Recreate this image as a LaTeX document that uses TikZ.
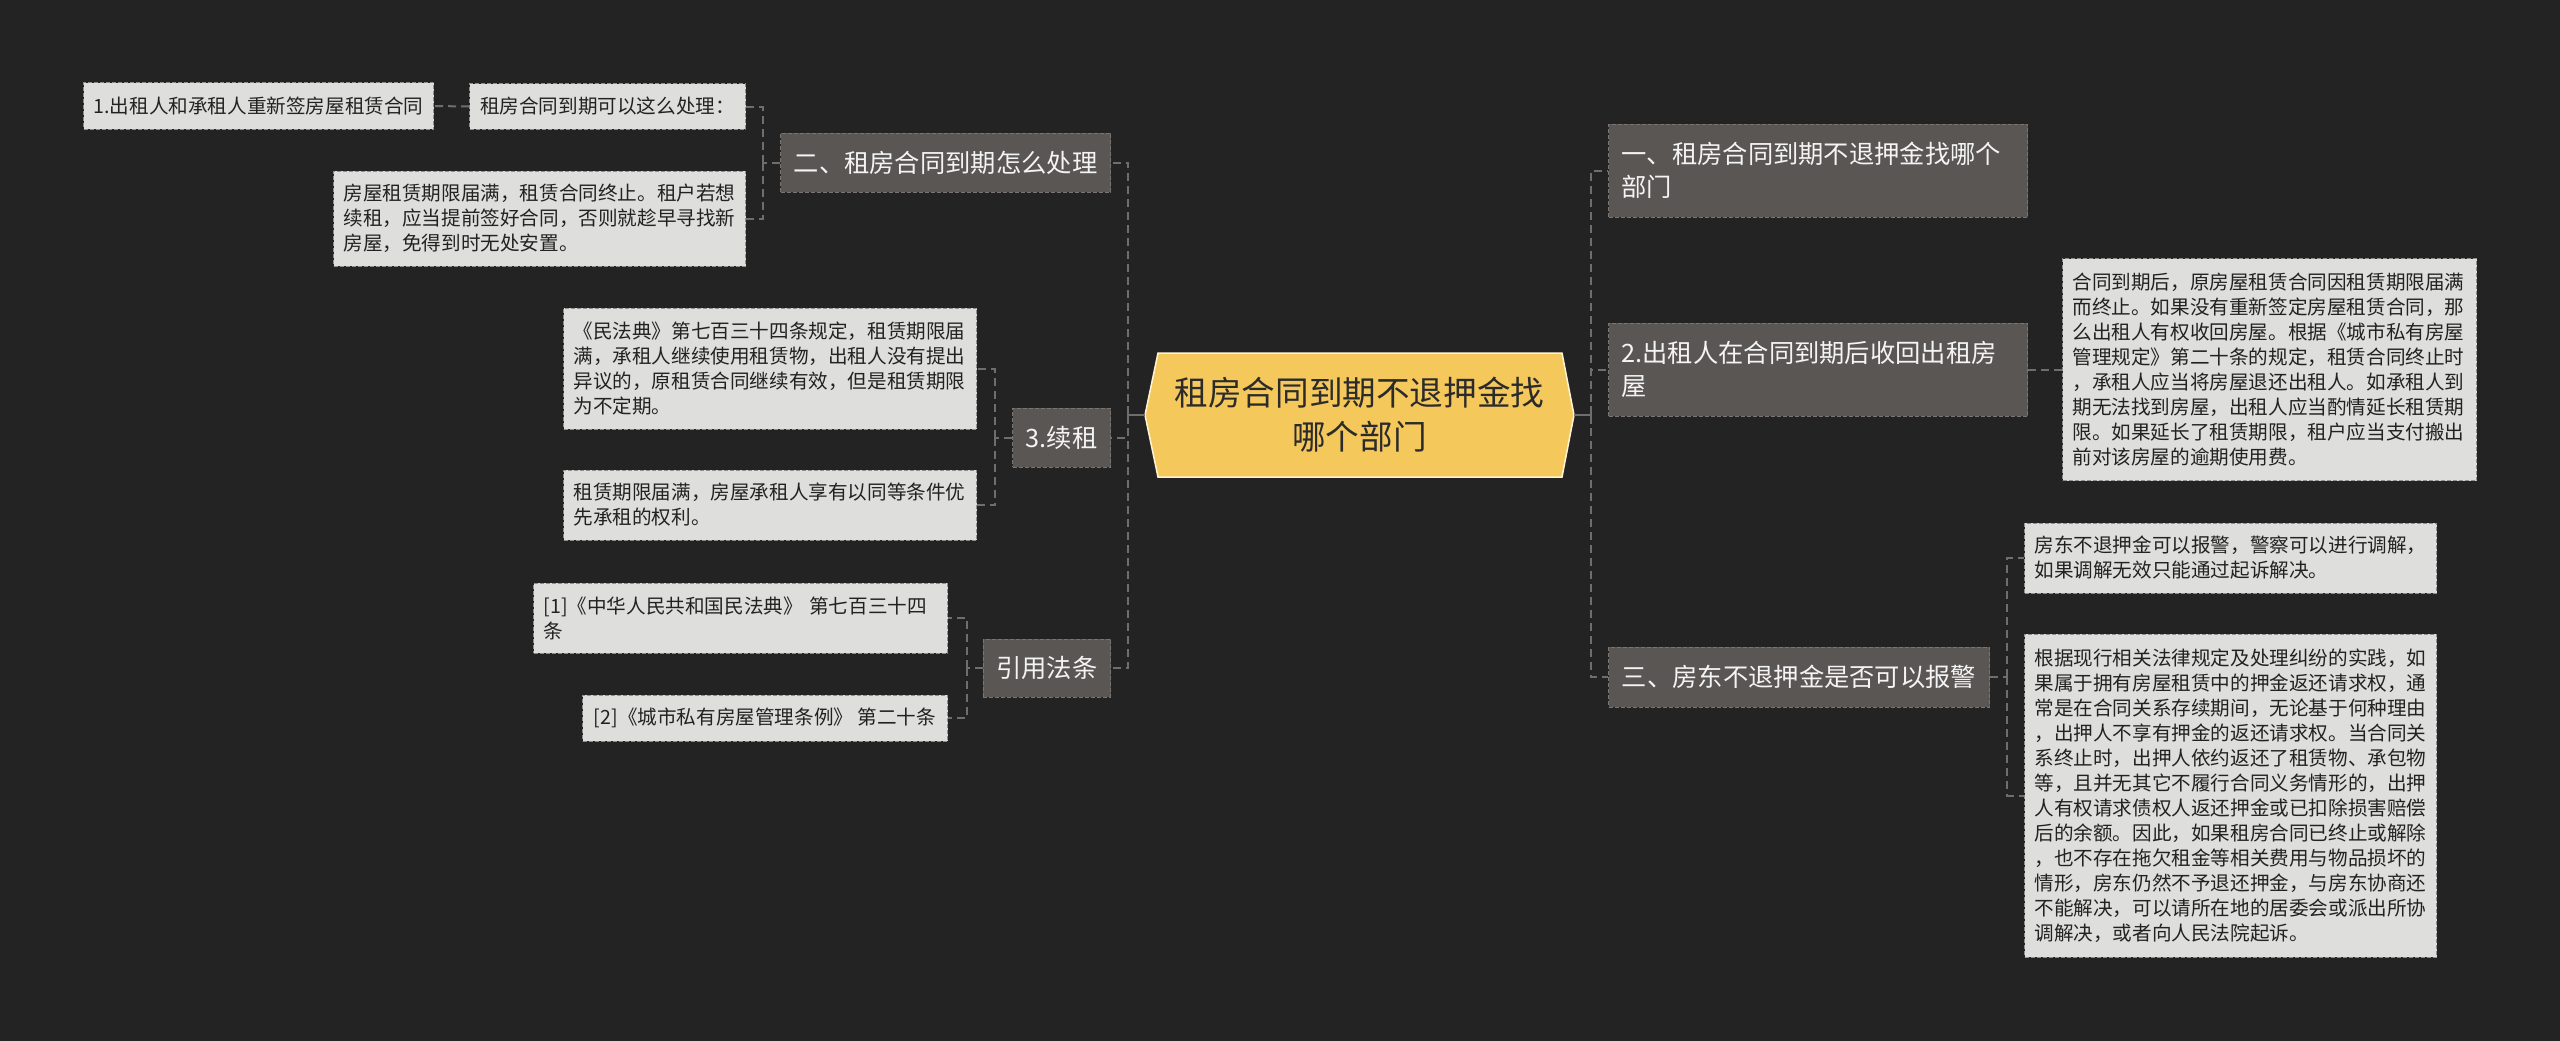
\documentclass[tikz,border=0pt]{standalone}
\usepackage{fontspec}
\newfontfamily\cjk{Noto Sans CJK SC}
\definecolor{bg}{HTML}{232323}
\definecolor{topicfill}{HTML}{5A5654}
\definecolor{topicline}{HTML}{7A7573}
\definecolor{topictext}{HTML}{F4F4F4}
\definecolor{leaffill}{HTML}{DEDEDC}
\definecolor{leafline}{HTML}{8F8F8F}
\definecolor{leaftext}{HTML}{222222}
\definecolor{hubfill}{HTML}{F5C85C}
\definecolor{hubline}{HTML}{FFF4D6}
\definecolor{hubtext}{HTML}{2B2B2B}
\definecolor{linkcol}{HTML}{6E6E6E}
\newcommand\hubfont{\cjk\fontsize{33.6}{44}\selectfont}
\newcommand\topicfont{\cjk\fontsize{25.3}{33}\selectfont}
\newcommand\leaffont{\cjk\fontsize{19.6}{25}\selectfont}
\begin{document}
\begin{tikzpicture}[x=1pt, y=-1pt,
    topic/.style={fill=topicfill, draw=topicline, dash pattern=on 4pt off 2pt, line width=1pt,
      text=topictext, font=\topicfont, inner xsep=13pt, inner ysep=0pt, align=left},
    leaf/.style={fill=leaffill, draw=leafline, dash pattern=on 4pt off 2pt, line width=1pt,
      text=leaftext, font=\leaffont, inner xsep=10pt, inner ysep=0pt, align=left},
    link/.style={draw=linkcol, line width=2pt, dash pattern=on 8pt off 5pt},
    stem/.style={draw=linkcol, line width=2.5pt}]
  \fill[bg] (0,0) rectangle (2560,1041);
  \useasboundingbox (0,0) rectangle (2560,1041);
  \filldraw[fill=hubfill, draw=hubline, line width=1.5pt]
    (1145,415) -- (1158,353) -- (1562,353) -- (1574,415) -- (1562,477) -- (1158,477) -- cycle;
  \node[font=\hubfont, text=hubtext, align=center, minimum width=429pt, minimum height=124pt,
    inner sep=0pt] (hub) at (1359.5,415) {租房合同到期不退押金找\\哪个部门};
  \node[topic, anchor=east, minimum width=330pt, minimum height=59pt, align=center] (chuli) at (1111,162.5) {二、租房合同到期怎么处理};
  \node[topic, anchor=east, minimum width=97pt, minimum height=59pt, align=center] (xuzu) at (1111,437.5) {3.续租};
  \node[topic, anchor=east, minimum width=127pt, minimum height=58pt, align=center] (yinyong) at (1111,668) {引用法条};
  \node[leaf, anchor=east, minimum width=276pt, minimum height=45pt, align=center] (kechuli) at (746,106.5) {租房合同到期可以这么处理：};
  \node[leaf, anchor=east, minimum width=350pt, minimum height=46pt, align=center] (chongqian) at (434,106) {1.出租人和承租人重新签房屋租赁合同};
  \node[leaf, anchor=east, text width=392pt, minimum height=95pt] (zhongzhi) at (746,218.5) {房屋租赁期限届满，租赁合同终止。租户若想\\续租，应当提前签好合同，否则就趁早寻找新\\房屋，免得到时无处安置。};
  \node[leaf, anchor=east, text width=393pt, minimum height=121pt] (minfa) at (977,368.5) {《民法典》第七百三十四条规定，租赁期限届\\满，承租人继续使用租赁物，出租人没有提出\\异议的，原租赁合同继续有效，但是租赁期限\\为不定期。};
  \node[leaf, anchor=east, text width=393pt, minimum height=70pt] (youxian) at (977,505) {租赁期限届满，房屋承租人享有以同等条件优\\先承租的权利。};
  \node[leaf, anchor=east, text width=394pt, minimum height=70pt] (fa1) at (948,618) {[1]《中华人民共和国民法典》 第七百三十四\\条};
  \node[leaf, anchor=east, minimum width=365pt, minimum height=46pt, align=center] (fa2) at (948,718) {[2]《城市私有房屋管理条例》 第二十条};
  \node[topic, anchor=west, text width=393pt, minimum height=93pt] (bumen) at (1608,170.5) {一、租房合同到期不退押金找哪个\\部门};
  \node[topic, anchor=west, text width=393pt, minimum height=93pt] (shouhui) at (1608,369.5) {2.出租人在合同到期后收回出租房\\屋};
  \node[topic, anchor=west, minimum width=381pt, minimum height=60pt, align=center] (baojing) at (1608,677) {三、房东不退押金是否可以报警};
  \node[leaf, anchor=west, text width=394pt, minimum height=222pt] (shtext) at (2062,369.5) {合同到期后，原房屋租赁合同因租赁期限届满\\而终止。如果没有重新签定房屋租赁合同，那\\么出租人有权收回房屋。根据《城市私有房屋\\管理规定》第二十条的规定，租赁合同终止时\\，承租人应当将房屋退还出租人。如承租人到\\期无法找到房屋，出租人应当酌情延长租赁期\\限。如果延长了租赁期限，租户应当支付搬出\\前对该房屋的逾期使用费。};
  \node[leaf, anchor=west, text width=392pt, minimum height=70pt] (bj1) at (2024,558) {房东不退押金可以报警，警察可以进行调解，\\如果调解无效只能通过起诉解决。};
  \node[leaf, anchor=west, text width=392pt, minimum height=323pt] (bj2) at (2024,795.5) {根据现行相关法律规定及处理纠纷的实践，如\\果属于拥有房屋租赁中的押金返还请求权，通\\常是在合同关系存续期间，无论基于何种理由\\，出押人不享有押金的返还请求权。当合同关\\系终止时，出押人依约返还了租赁物、承包物\\等，且并无其它不履行合同义务情形的，出押\\人有权请求债权人返还押金或已扣除损害赔偿\\后的余额。因此，如果租房合同已终止或解除\\，也不存在拖欠租金等相关费用与物品损坏的\\情形，房东仍然不予退还押金，与房东协商还\\不能解决，可以请所在地的居委会或派出所协\\调解决，或者向人民法院起诉。};
  \coordinate (lt) at (1128,415);
  \coordinate (rt) at (1591,415);
  \coordinate (ct) at (763,162.5);
  \coordinate (xt) at (995,437.5);
  \coordinate (yt) at (967,668);
  \coordinate (bt) at (2007,677);
  \draw[stem] (hub.west) -- (lt);
  \draw[stem] (hub.east) -- (rt);
  \draw[stem] ([yshift=-9pt]lt) -- ([yshift=9pt]lt);
  \draw[stem] ([yshift=-9pt]rt) -- ([yshift=9pt]rt);
  \foreach \n in {chuli,xuzu,yinyong} \draw[link] (lt) |- (\n.east);
  \foreach \n in {bumen,shouhui,baojing} \draw[link] (rt) |- (\n.west);
  \draw[link] (chuli.west) -- (ct);
  \draw[link] (ct) |- (kechuli.east);
  \draw[link] (ct) |- (zhongzhi.east);
  \draw[link] (kechuli.west) -- (chongqian.east);
  \draw[link] (xuzu.west) -- (xt);
  \draw[link] (xt) |- (minfa.east);
  \draw[link] (xt) |- (youxian.east);
  \draw[link] (yinyong.west) -- (yt);
  \draw[link] (yt) |- (fa1.east);
  \draw[link] (yt) |- (fa2.east);
  \draw[link] (shouhui.east) -- (shtext.west);
  \draw[link] (baojing.east) -- (bt);
  \draw[link] (bt) |- (bj1.west);
  \draw[link] (bt) |- (bj2.west);
\end{tikzpicture}
\end{document}
